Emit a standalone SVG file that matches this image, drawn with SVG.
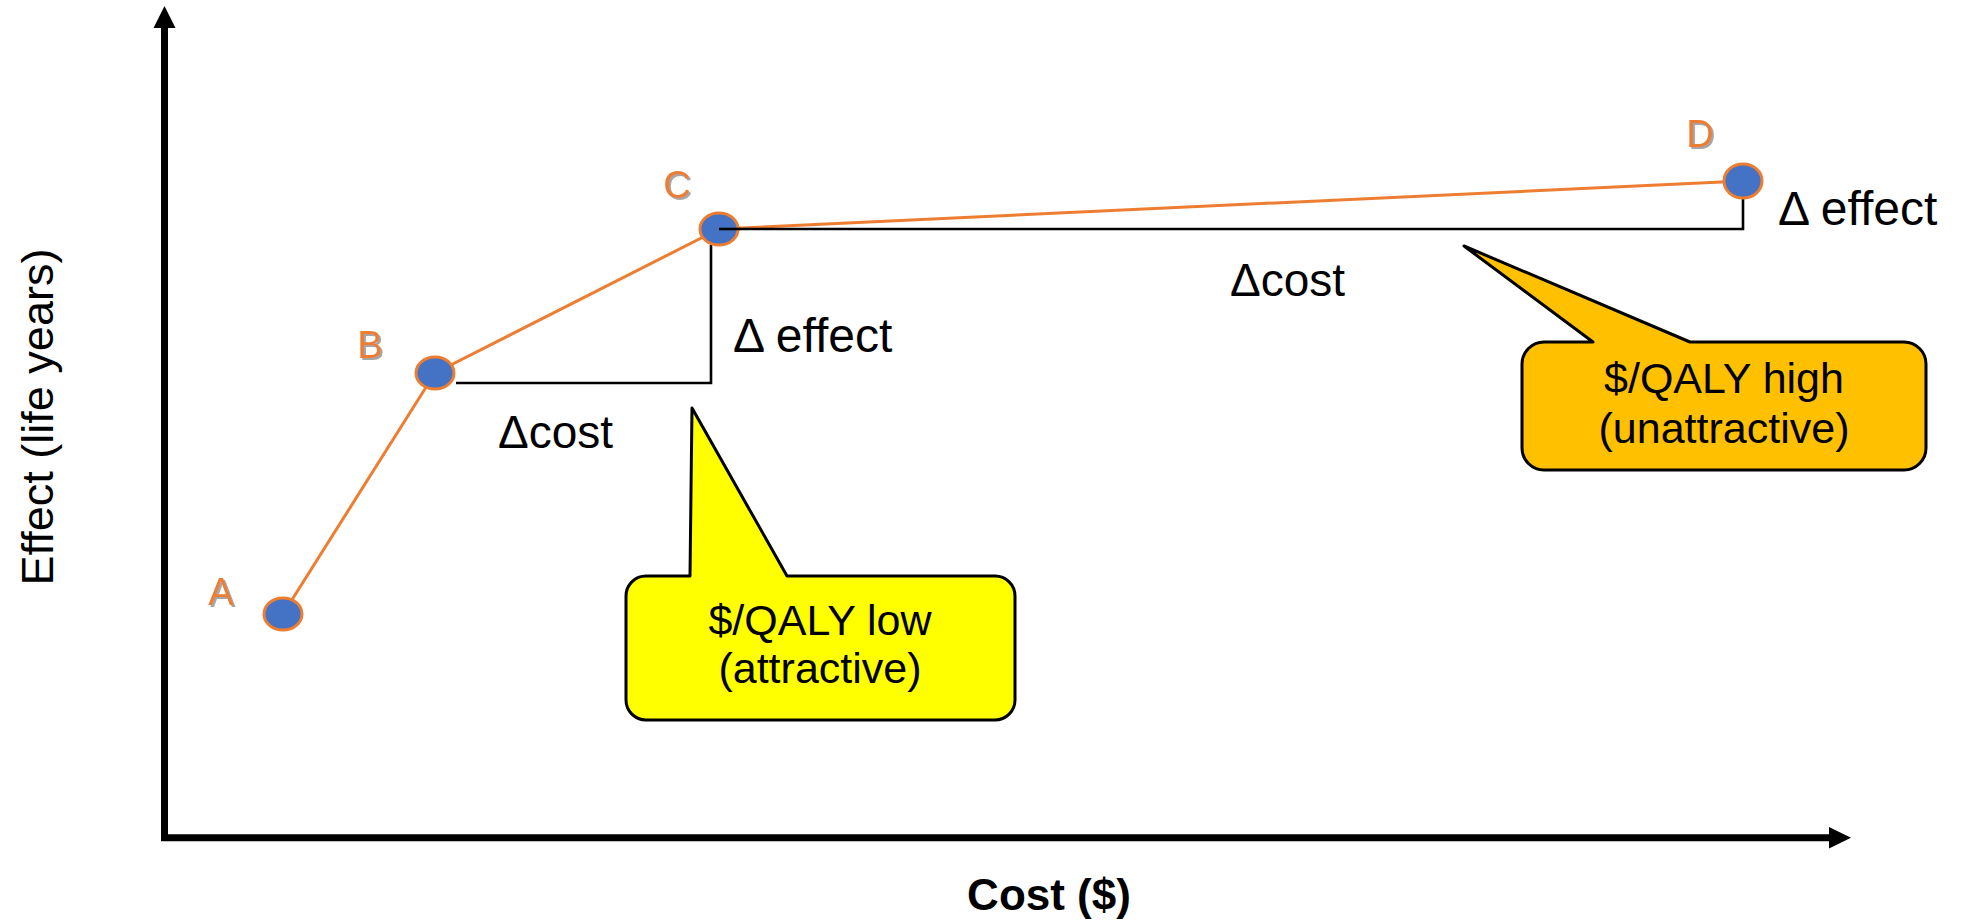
<svg xmlns="http://www.w3.org/2000/svg" width="1961" height="921" viewBox="0 0 1961 921">
  <style>
    .axis { stroke: #000; stroke-width: 7; fill: none; }
    .seg { stroke: #ED7D31; stroke-width: 3; fill: none; }
    .bracket { stroke: #000; stroke-width: 2.6; fill: none; }
    .pt { fill: #4472C4; stroke: #ED7D31; stroke-width: 3; }
    .ptlabel { font-family: "Liberation Sans", Arial, sans-serif; font-size: 38px; fill: #ED7D31; text-anchor: middle; filter: url(#shadow); }
    .delta { font-family: "Liberation Sans", Arial, sans-serif; font-size: 46px; fill: #000; }
    .delta-e { font-size: 48px; }
    .callout-text { font-family: "Liberation Sans", Arial, sans-serif; font-size: 43px; fill: #000; text-anchor: middle; }
    .callout { stroke: #000; stroke-width: 3; stroke-linejoin: round; }
    .axislabel { font-family: "Liberation Sans", Arial, sans-serif; fill: #000; text-anchor: middle; }
  </style>
  <defs>
    <filter id="shadow" x="-20%" y="-20%" width="150%" height="150%">
      <feDropShadow dx="2" dy="2" stdDeviation="0.6" flood-color="#A6A6A6" flood-opacity="1"/>
    </filter>
  </defs>
  <rect x="0" y="0" width="1961" height="921" fill="#fff"/>

  <g id="axes">
    <line class="axis" x1="164.5" y1="841" x2="164.5" y2="26"/>
    <polygon points="164.5,6 153.5,28 175.5,28" fill="#000"/>
    <line class="axis" x1="161" y1="837.7" x2="1831" y2="837.7"/>
    <polygon points="1851,837.7 1829,827 1829,848.5" fill="#000"/>
    <text class="axislabel" x="1049" y="910" font-size="44" font-weight="bold">Cost ($)</text>
    <text class="axislabel" font-size="45" transform="translate(53,417) rotate(-90)">Effect (life years)</text>
  </g>

  <g id="connectors">
    <line class="seg" x1="283" y1="614" x2="435" y2="373"/>
    <line class="seg" x1="435" y1="373" x2="719" y2="229"/>
    <line class="seg" x1="719" y1="229" x2="1743" y2="181"/>
    <polyline class="bracket" points="456,383 711,383 711,245"/>
    <polyline class="bracket" points="719,229 1743,229 1743,198"/>
  </g>

  <g id="node-A">
    <ellipse class="pt" cx="283" cy="614" rx="19" ry="16"/>
    <text class="ptlabel" x="221" y="605">A</text>
  </g>
  <g id="node-B">
    <ellipse class="pt" cx="435" cy="373" rx="19" ry="16"/>
    <text class="ptlabel" x="370" y="358">B</text>
  </g>
  <g id="node-C">
    <ellipse class="pt" cx="719" cy="229" rx="19" ry="16"/>
    <text class="ptlabel" x="677" y="198">C</text>
  </g>
  <g id="node-D">
    <ellipse class="pt" cx="1743" cy="181" rx="19" ry="17"/>
    <text class="ptlabel" x="1700" y="147">D</text>
  </g>
  <g id="bracket-tick">
    <line class="bracket" x1="719" y1="229" x2="740" y2="229"/>
  </g>

  <g id="delta-labels">
    <text class="delta" x="498" y="448">Δcost</text>
    <text class="delta delta-e" x="733" y="352">Δ effect</text>
    <text class="delta" x="1230" y="296">Δcost</text>
    <text class="delta delta-e" x="1778" y="225">Δ effect</text>
  </g>

  <g id="callout-low">
    <path class="callout" fill="#FFFF00" d="M646,576 L690,576 L692,408 L787,576 L995,576 A20,20 0 0 1 1015,596 L1015,700 A20,20 0 0 1 995,720 L646,720 A20,20 0 0 1 626,700 L626,596 A20,20 0 0 1 646,576 Z"/>
    <text class="callout-text" x="820" y="635">$/QALY low</text>
    <text class="callout-text" x="820" y="683">(attractive)</text>
  </g>

  <g id="callout-high">
    <path class="callout" fill="#FFC000" d="M1544,342 L1593,342 L1464,246 L1690,342 L1904,342 A22,22 0 0 1 1926,364 L1926,448 A22,22 0 0 1 1904,470 L1544,470 A22,22 0 0 1 1522,448 L1522,364 A22,22 0 0 1 1544,342 Z"/>
    <text class="callout-text" x="1724" y="393">$/QALY high</text>
    <text class="callout-text" x="1724" y="443">(unattractive)</text>
  </g>
</svg>
